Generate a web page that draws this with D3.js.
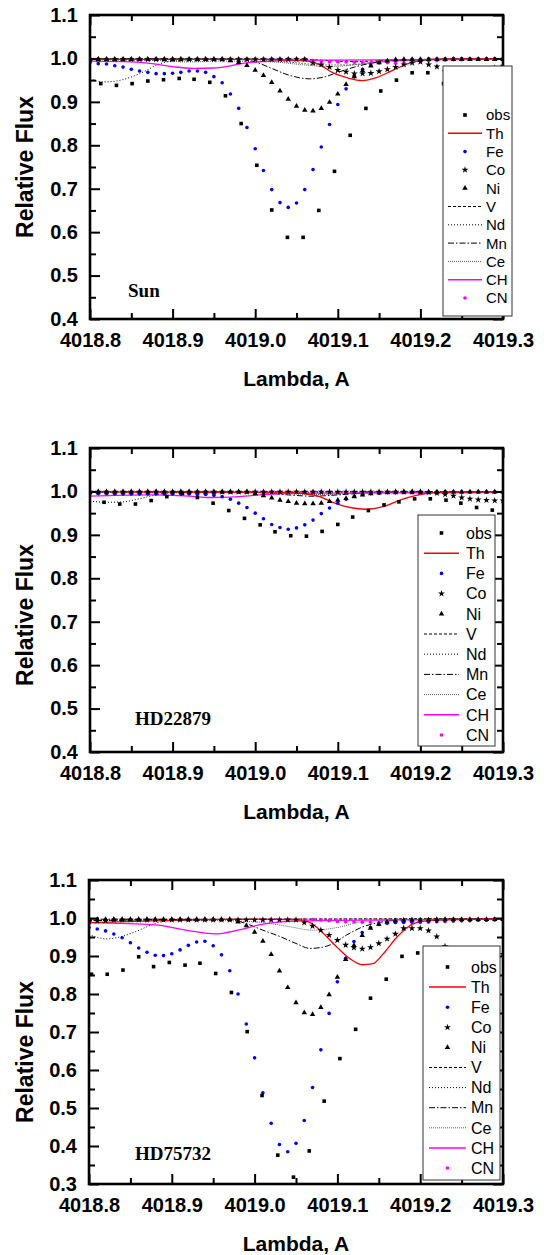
<!DOCTYPE html>
<html><head><meta charset="utf-8">
<script src="https://cdn.jsdelivr.net/npm/d3@7"></script>
<style>
body{margin:0;background:#fff;}
svg{display:block;}
.tick text{font-family:"Liberation Sans",Arial,sans-serif;font-weight:bold;font-size:20px;fill:#000;}
.tick line{stroke:#000;stroke-width:2;}
.title{font-family:"Liberation Sans",Arial,sans-serif;font-weight:bold;fill:#000;}
.leg{font-family:"Liberation Sans",Arial,sans-serif;fill:#000;}
.star{font-family:"Liberation Serif","Times New Roman",serif;font-weight:bold;font-size:19px;fill:#000;}
</style></head><body>
<svg id="chart" width="544" height="1255"></svg>
<script>
// ---------- data ----------
const gridX = [4018.80,4018.81,4018.82,4018.83,4018.84,4018.85,4018.86,4018.87,4018.88,4018.89,4018.90,4018.91,4018.92,4018.93,4018.94,4018.95,4018.96,4018.97,4018.98,4018.99,4019.00,4019.01,4019.02,4019.03,4019.04,4019.05,4019.06,4019.07,4019.08,4019.09,4019.10,4019.11,4019.12,4019.13,4019.14,4019.15,4019.16,4019.17,4019.18,4019.19,4019.20,4019.21,4019.22,4019.23,4019.24,4019.25,4019.26,4019.27,4019.28,4019.29,4019.30];
const xTicks = [4018.8,4018.9,4019.0,4019.1,4019.2,4019.3];
const xMinor = [4018.85,4018.95,4019.05,4019.15,4019.25];
const yTicksA = [0.4,0.5,0.6,0.7,0.8,0.9,1.0,1.1];
const yMinorA = [0.45,0.55,0.65,0.75,0.85,0.95,1.05];
const yTicksB = [0.3,0.4,0.5,0.6,0.7,0.8,0.9,1.0,1.1];
const yMinorB = [0.35,0.45,0.55,0.65,0.75,0.85,0.95,1.05];
const legendNames = ["obs","Th","Fe","Co","Ni","V","Nd","Mn","Ce","CH","CN"];
const starNames = ["Sun","HD22879","HD75732"];

// Sun
const sunObsX = [4018.813,4018.832,4018.851,4018.870,4018.889,4018.908,4018.926,4018.945,4018.964,4018.983,4019.002,4019.020,4019.039,4019.058,4019.077,4019.096,4019.115,4019.134,4019.152,4019.171,4019.190,4019.209,4019.228,4019.247,4019.266,4019.285];
const sunObs = [0.942,0.938,0.942,0.948,0.951,0.954,0.952,0.945,0.914,0.850,0.754,0.651,0.588,0.588,0.650,0.740,0.823,0.885,0.925,0.950,0.967,0.967,0.942,0.950,0.960,0.965];
const sunFe = [0.991,0.988,0.987,0.983,0.980,0.975,0.971,0.968,0.965,0.965,0.966,0.968,0.971,0.971,0.968,0.958,0.944,0.918,0.885,0.841,0.792,0.742,0.698,0.668,0.657,0.667,0.698,0.744,0.796,0.848,0.894,0.930,0.958,0.975,0.985,0.990,0.994,0.996,0.997,0.998,0.998,0.999,0.999,0.999,1.000,1.000,1.000,1.000,1.000,1.000,1.000];
const sunCo = [0.998,0.998,0.998,0.998,0.998,0.998,0.998,0.998,0.998,0.998,0.998,0.998,0.998,0.998,0.998,0.998,0.998,0.998,0.998,0.998,0.998,0.998,0.998,0.998,0.998,0.998,0.998,0.990,0.986,0.980,0.973,0.969,0.965,0.965,0.966,0.970,0.975,0.980,0.986,0.990,0.992,0.986,0.981,0.970,0.965,0.962,0.962,0.966,0.972,0.978,0.983];
const sunNi = [0.998,0.998,0.998,0.998,0.998,0.998,0.998,0.998,0.998,0.998,0.998,0.998,0.998,0.998,0.998,0.998,0.998,0.995,0.991,0.984,0.973,0.961,0.945,0.925,0.906,0.890,0.881,0.879,0.885,0.899,0.918,0.940,0.958,0.972,0.983,0.990,0.994,0.997,0.998,0.998,0.998,0.998,0.998,0.998,0.998,0.998,0.998,0.998,0.998,0.998,0.998];
const sunCN = [0.999,0.999,0.999,0.999,0.999,0.999,0.999,0.999,0.999,0.999,0.999,0.999,0.999,0.999,0.999,0.999,0.999,0.999,0.999,0.999,0.999,0.999,0.999,0.999,0.999,0.999,0.999,0.995,0.993,0.992,0.992,0.992,0.991,0.991,0.990,0.990,0.990,0.989,0.990,0.991,0.993,0.994,0.995,0.996,0.997,0.997,0.998,0.998,0.998,0.998,0.998];
const sunTh = [[4018.80,0.998],[4019.00,0.998],[4019.05,0.996],[4019.075,0.988],[4019.095,0.966],[4019.112,0.955],[4019.13,0.949],[4019.147,0.956],[4019.167,0.973],[4019.187,0.989],[4019.205,0.996],[4019.23,0.999],[4019.30,0.999]];
const sunCH = [[4018.80,0.994],[4018.85,0.992],[4018.875,0.988],[4018.90,0.981],[4018.925,0.977],[4018.95,0.978],[4018.97,0.983],[4018.99,0.990],[4019.02,0.994],[4019.08,0.996],[4019.30,0.998]];
const sunV = [[4018.80,0.999],[4019.05,0.998],[4019.12,0.993],[4019.18,0.997],[4019.30,0.999]];
const sunNd = [[4018.80,0.953],[4018.816,0.946],[4018.828,0.947],[4018.848,0.956],[4018.869,0.973],[4018.881,0.985],[4018.90,0.994],[4018.95,0.998],[4019.00,0.997],[4019.05,0.990],[4019.08,0.985],[4019.11,0.985],[4019.15,0.993],[4019.20,0.998],[4019.30,0.999]];
const sunMn = [[4018.80,0.999],[4018.98,0.998],[4019.00,0.992],[4019.02,0.977],[4019.04,0.962],[4019.066,0.953],[4019.085,0.958],[4019.10,0.968],[4019.12,0.980],[4019.14,0.989],[4019.17,0.996],[4019.30,0.999]];
const sunCe = [[4018.80,0.997],[4018.88,0.995],[4018.92,0.992],[4018.96,0.994],[4019.02,0.992],[4019.06,0.985],[4019.09,0.981],[4019.12,0.985],[4019.16,0.992],[4019.22,0.997],[4019.30,0.999]];

// HD22879
const hdaObsX = [4018.817,4018.836,4018.855,4018.874,4018.893,4018.912,4018.930,4018.949,4018.968,4018.987,4019.006,4019.024,4019.043,4019.062,4019.081,4019.100,4019.118,4019.137,4019.156,4019.174,4019.193,4019.212,4019.231,4019.249,4019.268,4019.287];
const hdaObs = [0.975,0.971,0.971,0.979,0.988,0.995,0.986,0.973,0.956,0.938,0.923,0.907,0.898,0.897,0.908,0.924,0.941,0.956,0.969,0.976,0.983,0.983,0.980,0.973,0.963,0.957];
const hdaFe = [0.996,0.995,0.995,0.994,0.994,0.994,0.994,0.994,0.994,0.994,0.994,0.994,0.994,0.993,0.993,0.991,0.988,0.982,0.973,0.963,0.950,0.937,0.924,0.917,0.913,0.916,0.923,0.934,0.949,0.962,0.973,0.982,0.989,0.993,0.995,0.996,0.997,0.997,0.998,0.998,0.998,0.998,0.999,0.999,0.999,0.999,0.999,0.999,0.999,0.999,0.999];
const hdaCo = [0.999,0.999,0.999,0.999,0.999,0.999,0.999,0.999,0.999,0.999,0.999,0.999,0.999,0.999,0.999,0.999,0.999,0.999,0.999,0.999,0.999,0.999,0.999,0.999,0.999,0.999,0.999,0.999,0.999,0.999,0.999,0.999,0.999,0.999,0.999,0.999,0.999,0.999,0.999,0.999,0.999,0.998,0.996,0.993,0.990,0.986,0.983,0.981,0.980,0.979,0.979];
const hdaNi = [0.999,0.999,0.999,0.999,0.999,0.999,0.999,0.999,0.999,0.999,0.999,0.999,0.999,0.999,0.999,0.999,0.999,0.999,0.999,0.999,0.995,0.990,0.985,0.980,0.977,0.973,0.972,0.972,0.973,0.977,0.980,0.984,0.988,0.992,0.995,0.997,0.998,0.999,0.999,0.999,0.999,0.999,0.999,0.999,0.999,0.999,0.999,0.999,0.999,0.999,0.999];
const hdaCN = [0.999,0.999,0.999,0.999,0.999,0.999,0.999,0.999,0.999,0.999,0.999,0.999,0.999,0.999,0.999,0.999,0.999,0.999,0.999,0.999,0.999,0.999,0.999,0.999,0.999,0.999,0.999,0.999,0.999,0.997,0.997,0.997,0.997,0.997,0.997,0.997,0.997,0.997,0.997,0.997,0.997,0.997,0.997,0.997,0.997,0.997,0.998,0.998,0.998,0.998,0.998];
const hdaTh = [[4018.80,0.999],[4019.04,0.998],[4019.055,0.996],[4019.078,0.988],[4019.094,0.975],[4019.115,0.963],[4019.133,0.959],[4019.155,0.965],[4019.175,0.980],[4019.195,0.991],[4019.215,0.997],[4019.30,0.999]];
const hdaCH = [[4018.80,0.989],[4018.87,0.992],[4018.92,0.989],[4018.945,0.986],[4018.98,0.988],[4019.02,0.994],[4019.08,0.996],[4019.30,0.998]];
const hdaV = [[4018.80,0.999],[4019.05,0.999],[4019.30,0.999]];
const hdaNd = [[4018.80,0.978],[4018.82,0.975],[4018.84,0.976],[4018.86,0.983],[4018.88,0.992],[4018.90,0.997],[4019.30,0.999]];
const hdaMn = [[4018.80,0.999],[4019.00,0.998],[4019.04,0.992],[4019.07,0.989],[4019.10,0.992],[4019.14,0.997],[4019.30,0.999]];
const hdaCe = [[4018.80,0.998],[4019.00,0.997],[4019.08,0.993],[4019.14,0.997],[4019.30,0.999]];

// HD75732
const hdbObsX = [4018.803,4018.822,4018.841,4018.860,4018.878,4018.897,4018.916,4018.934,4018.953,4018.972,4018.991,4019.009,4019.028,4019.047,4019.066,4019.084,4019.103,4019.122,4019.140,4019.159,4019.178,4019.197,4019.216,4019.235,4019.253,4019.272,4019.291];
const hdbObs = [0.852,0.852,0.863,0.898,0.872,0.883,0.876,0.881,0.854,0.804,0.701,0.533,0.376,0.318,0.387,0.518,0.630,0.707,0.789,0.839,0.899,0.908,0.912,0.910,0.908,0.905,0.905];
const hdbFe = [0.975,0.971,0.966,0.958,0.948,0.935,0.921,0.910,0.902,0.901,0.906,0.916,0.928,0.937,0.939,0.927,0.903,0.861,0.800,0.721,0.632,0.540,0.460,0.404,0.385,0.407,0.467,0.554,0.653,0.749,0.832,0.894,0.938,0.962,0.975,0.983,0.986,0.988,0.989,0.990,0.990,0.991,0.991,0.992,0.992,0.993,0.993,0.994,0.994,0.995,0.995];
const hdbCo = [0.990,0.992,0.993,0.995,0.995,0.995,0.995,0.995,0.995,0.995,0.995,0.995,0.995,0.995,0.995,0.995,0.995,0.995,0.995,0.995,0.995,0.995,0.995,0.995,0.995,0.995,0.988,0.979,0.968,0.955,0.942,0.929,0.922,0.919,0.923,0.933,0.945,0.958,0.973,0.973,0.973,0.967,0.951,0.925,0.905,0.895,0.890,0.890,0.895,0.900,0.905];
const hdbNi = [0.996,0.996,0.996,0.996,0.996,0.996,0.996,0.996,0.996,0.996,0.996,0.996,0.996,0.996,0.996,0.996,0.996,0.996,0.990,0.980,0.963,0.939,0.904,0.861,0.817,0.777,0.751,0.746,0.765,0.798,0.844,0.891,0.928,0.954,0.973,0.984,0.990,0.993,0.994,0.995,0.995,0.995,0.996,0.996,0.996,0.996,0.996,0.996,0.996,0.996,0.996];
const hdbCN = [0.996,0.996,0.996,0.996,0.996,0.996,0.996,0.996,0.996,0.996,0.996,0.996,0.996,0.996,0.996,0.996,0.996,0.996,0.996,0.996,0.996,0.996,0.996,0.996,0.996,0.996,0.996,0.996,0.995,0.993,0.991,0.990,0.990,0.989,0.989,0.988,0.988,0.988,0.988,0.988,0.988,0.989,0.990,0.991,0.992,0.993,0.994,0.995,0.995,0.996,0.996];
const hdbTh = [[4018.80,0.988],[4018.90,0.994],[4019.00,0.997],[4019.05,0.995],[4019.065,0.990],[4019.079,0.968],[4019.10,0.922],[4019.115,0.893],[4019.13,0.877],[4019.143,0.880],[4019.155,0.905],[4019.172,0.950],[4019.192,0.985],[4019.21,0.993],[4019.24,0.996],[4019.30,0.997]];
const hdbCH = [[4018.80,0.988],[4018.88,0.982],[4018.92,0.967],[4018.953,0.958],[4018.98,0.968],[4019.01,0.984],[4019.04,0.991],[4019.10,0.994],[4019.30,0.997]];
const hdbV = [[4018.80,0.993],[4018.90,0.996],[4019.30,0.998]];
const hdbNd = [[4018.80,0.957],[4018.81,0.949],[4018.821,0.945],[4018.837,0.950],[4018.855,0.963],[4018.87,0.977],[4018.88,0.986],[4018.90,0.993],[4018.95,0.996],[4019.30,0.998]];
const hdbMn = [[4018.80,0.997],[4018.97,0.996],[4018.99,0.985],[4019.01,0.968],[4019.031,0.951],[4019.05,0.933],[4019.067,0.920],[4019.082,0.923],[4019.095,0.933],[4019.111,0.955],[4019.131,0.977],[4019.15,0.988],[4019.18,0.995],[4019.30,0.998]];
const hdbCe = [[4018.80,0.994],[4018.95,0.993],[4019.00,0.990],[4019.04,0.978],[4019.07,0.968],[4019.10,0.975],[4019.13,0.990],[4019.20,0.997],[4019.30,0.998]];

// ---------- layout (positions, not data) ----------
const panels = [
  {label:starNames[0], obsX:sunObsX, obs:sunObs, Fe:sunFe, Co:sunCo, Ni:sunNi, CN:sunCN, Th:sunTh, CH:sunCH, V:sunV, Nd:sunNd, Mn:sunMn, Ce:sunCe,
   yMin:0.4, yT:yTicksA, yM:yMinorA, box:{l:90,r:503,t:15,b:319}, ylab:167, lab:{x:128,y:297},
   leg:{x0:443,x1:512,y0:66,y1:316,row0:115,step:18.3,s0:448,s1:482,tx:486,fs:15}},
  {label:starNames[1], obsX:hdaObsX, obs:hdaObs, Fe:hdaFe, Co:hdaCo, Ni:hdaNi, CN:hdaCN, Th:hdaTh, CH:hdaCH, V:hdaV, Nd:hdaNd, Mn:hdaMn, Ce:hdaCe,
   yMin:0.4, yT:yTicksA, yM:yMinorA, box:{l:90,r:503,t:448,b:752}, ylab:615, lab:{x:135,y:725},
   leg:{x0:418,x1:495,y0:515,y1:746,row0:533,step:20.2,s0:424,s1:459,tx:466,fs:16}},
  {label:starNames[2], obsX:hdbObsX, obs:hdbObs, Fe:hdbFe, Co:hdbCo, Ni:hdbNi, CN:hdbCN, Th:hdbTh, CH:hdbCH, V:hdbV, Nd:hdbNd, Mn:hdbMn, Ce:hdbCe,
   yMin:0.3, yT:yTicksB, yM:yMinorB, box:{l:89,r:503,t:880,b:1184}, ylab:1052, lab:{x:135,y:1160},
   leg:{x0:423,x1:500,y0:946,y1:1180,row0:967,step:20.1,s0:429,s1:466,tx:471,fs:16}}
];

const lineStyles = {
  Ce:{stroke:"#606060", w:1, dash:"1,1"},
  Nd:{stroke:"#000", w:1, dash:"1,2"},
  V:{stroke:"#000", w:1, dash:"3,2"},
  Mn:{stroke:"#000", w:1, dash:"6,2,1.5,2"},
  CH:{stroke:"#ff00ff", w:1.3, dash:null},
  Th:{stroke:"#ff0000", w:1.3, dash:null}
};
const starSym = d3.symbol().type(d3.symbolStar).size(15);
const triSym = d3.symbol().type(d3.symbolTriangle).size(13);

const svg = d3.select("#chart");

function drawMarker(sel, kind, cx, cy) {
  if (kind === "obs") sel.append("rect").attr("x", cx-1.8).attr("y", cy-1.8).attr("width", 3.6).attr("height", 3.6).attr("fill", "#000");
  else if (kind === "Fe") sel.append("circle").attr("cx", cx).attr("cy", cy).attr("r", 1.8).attr("fill", "#0000ff");
  else if (kind === "CN") sel.append("circle").attr("cx", cx).attr("cy", cy).attr("r", 1.8).attr("fill", "#ff00ff");
  else if (kind === "Co") sel.append("path").attr("d", starSym()).attr("transform", `translate(${cx},${cy})`).attr("fill", "#000");
  else if (kind === "Ni") sel.append("path").attr("d", triSym()).attr("transform", `translate(${cx},${cy})`).attr("fill", "#000");
}

panels.forEach((p, idx) => {
  const b = p.box;
  const x = d3.scaleLinear().domain([4018.8, 4019.3]).range([b.l, b.r]);
  const y = d3.scaleLinear().domain([p.yMin, 1.1]).range([b.b, b.t]);
  const g = svg.append("g");
  const clipId = "clip" + idx;
  svg.append("clipPath").attr("id", clipId).append("rect")
    .attr("x", b.l).attr("y", b.t).attr("width", b.r - b.l).attr("height", b.b - b.t);
  const plot = g.append("g").attr("clip-path", `url(#${clipId})`);

  const line = d3.line().x(d => x(d[0])).y(d => y(d[1])).curve(d3.curveMonotoneX);
  ["Ce","Nd","V","Mn","CH","Th"].forEach(k => {
    const st = lineStyles[k];
    plot.append("path").datum(p[k]).attr("d", line).attr("fill", "none")
      .attr("stroke", st.stroke).attr("stroke-width", st.w)
      .attr("stroke-dasharray", st.dash);
  });

  const gridPts = key => gridX.map((v, i) => [v, p[key][i]]);
  plot.append("g").selectAll("circle").data(gridPts("CN")).join("circle")
    .attr("cx", d => x(d[0])).attr("cy", d => y(d[1])).attr("r", 1.8).attr("fill", "#ff00ff");
  plot.append("g").selectAll("circle").data(gridPts("Fe")).join("circle")
    .attr("cx", d => x(d[0])).attr("cy", d => y(d[1])).attr("r", 1.8).attr("fill", "#0000ff");
  plot.append("g").selectAll("rect").data(p.obsX.map((v, i) => [v, p.obs[i]])).join("rect")
    .attr("x", d => x(d[0]) - 1.8).attr("y", d => y(d[1]) - 1.8).attr("width", 3.6).attr("height", 3.6).attr("fill", "#000");
  plot.append("g").selectAll("path").data(gridPts("Ni")).join("path")
    .attr("d", triSym()).attr("transform", d => `translate(${x(d[0])},${y(d[1])})`).attr("fill", "#000");
  plot.append("g").selectAll("path").data(gridPts("Co")).join("path")
    .attr("d", starSym()).attr("transform", d => `translate(${x(d[0])},${y(d[1])})`).attr("fill", "#000");

  // axes
  const put = (axis, tr) => g.append("g").attr("transform", tr).call(axis).call(s => s.select(".domain").remove());
  put(d3.axisBottom(x).tickValues(xTicks).tickFormat(d3.format(".1f")).tickSizeInner(-10).tickSizeOuter(0).tickPadding(14), `translate(0,${b.b})`);
  put(d3.axisBottom(x).tickValues(xMinor).tickFormat("").tickSizeInner(-6).tickSizeOuter(0), `translate(0,${b.b})`);
  put(d3.axisTop(x).tickValues(xTicks).tickFormat("").tickSizeInner(-10).tickSizeOuter(0), `translate(0,${b.t})`);
  put(d3.axisTop(x).tickValues(xMinor).tickFormat("").tickSizeInner(-6).tickSizeOuter(0), `translate(0,${b.t})`);
  put(d3.axisLeft(y).tickValues(p.yT).tickFormat(d3.format(".1f")).tickSizeInner(-10).tickSizeOuter(0).tickPadding(12), `translate(${b.l},0)`);
  put(d3.axisLeft(y).tickValues(p.yM).tickFormat("").tickSizeInner(-6).tickSizeOuter(0), `translate(${b.l},0)`);
  put(d3.axisRight(y).tickValues(p.yT).tickFormat("").tickSizeInner(-10).tickSizeOuter(0), `translate(${b.r},0)`);
  put(d3.axisRight(y).tickValues(p.yM).tickFormat("").tickSizeInner(-6).tickSizeOuter(0), `translate(${b.r},0)`);

  g.append("rect").attr("x", b.l).attr("y", b.t).attr("width", b.r - b.l).attr("height", b.b - b.t)
    .attr("fill", "none").attr("stroke", "#000").attr("stroke-width", 2.6);

  // titles
  g.append("text").attr("class", "title").attr("font-size", 23)
    .attr("transform", `translate(33,${p.ylab}) rotate(-90)`).attr("text-anchor", "middle").text("Relative Flux");
  g.append("text").attr("class", "title").attr("font-size", 21)
    .attr("x", (b.l + b.r) / 2).attr("y", b.b + 67).attr("text-anchor", "middle").text("Lambda, A");
  g.append("text").attr("class", "star").attr("x", p.lab.x).attr("y", p.lab.y).text(p.label);

  // legend
  const L = p.leg;
  const lg = g.append("g");
  lg.append("rect").attr("x", L.x0).attr("y", L.y0).attr("width", L.x1 - L.x0).attr("height", L.y1 - L.y0)
    .attr("fill", "#fff").attr("stroke", "#333").attr("stroke-width", 1);
  legendNames.forEach((name, i) => {
    const ry = L.row0 + i * L.step;
    const mid = (L.s0 + L.s1) / 2;
    if (lineStyles[name]) {
      const st = lineStyles[name];
      lg.append("line").attr("x1", L.s0).attr("x2", L.s1).attr("y1", ry).attr("y2", ry)
        .attr("stroke", st.stroke).attr("stroke-width", st.w === 1 ? 1 : 1.5).attr("stroke-dasharray", st.dash);
    } else {
      drawMarker(lg, name, mid, ry);
    }
    lg.append("text").attr("class", "leg").attr("font-size", L.fs).attr("x", L.tx).attr("y", ry).attr("dy", "0.36em").text(name);
  });
});
</script>
</body></html>
